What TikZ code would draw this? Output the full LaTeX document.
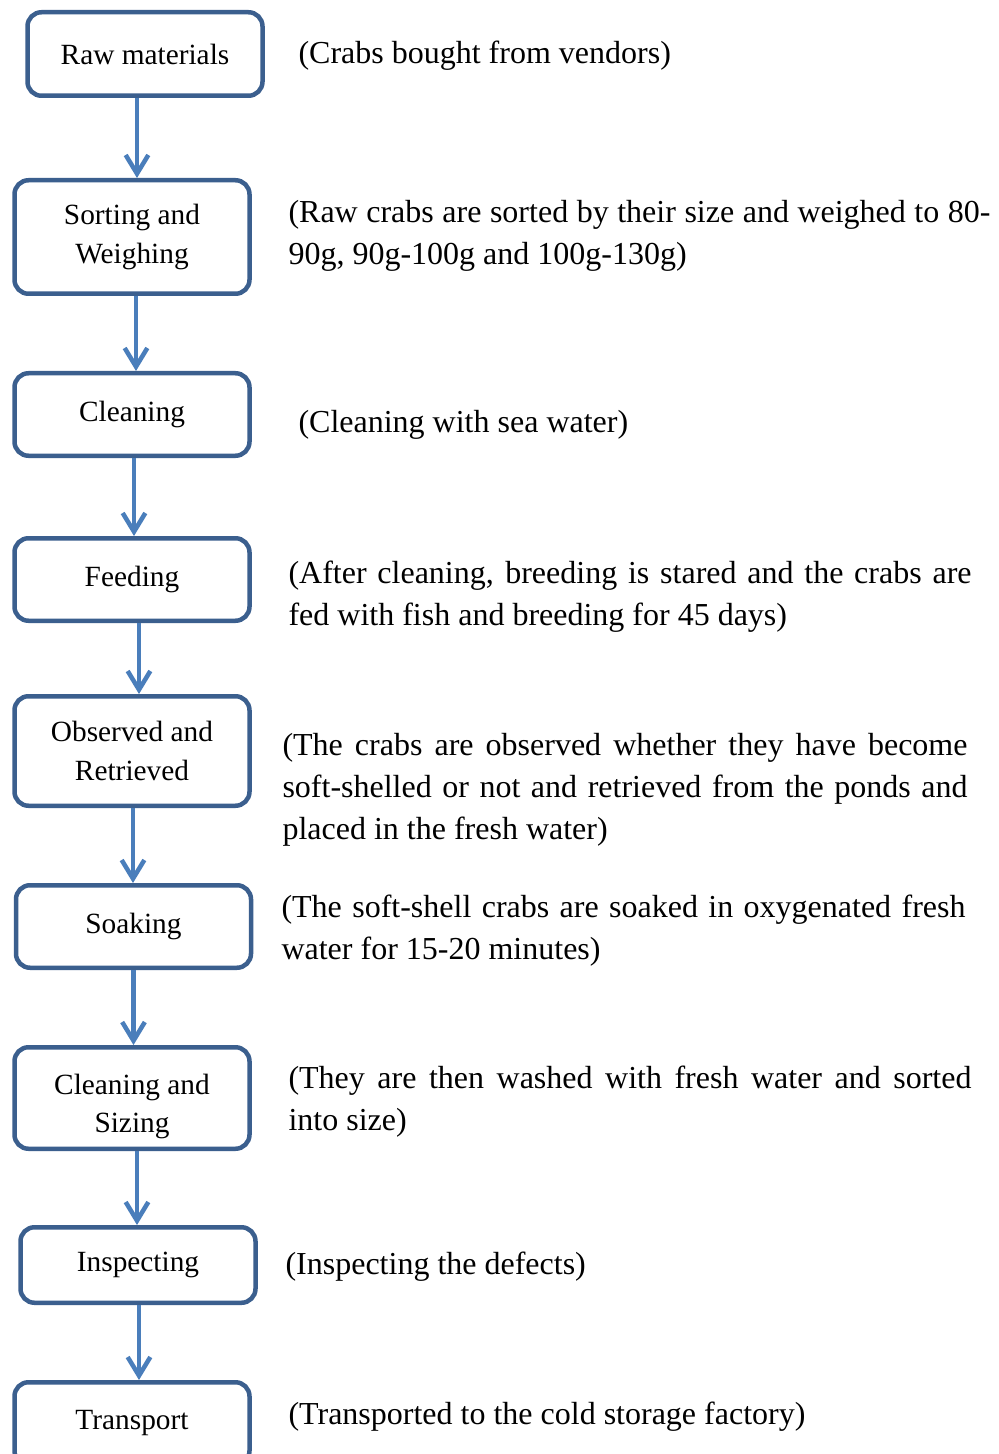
\documentclass[tikz,border=0pt]{standalone}
\usepackage{fontspec}
\setmainfont{Liberation Serif}
\usetikzlibrary{arrows.meta}
\newlength\pxu
\setlength\pxu{0.375pt}
\definecolor{boxblue}{HTML}{3B5F8E}
\definecolor{arrowblue}{HTML}{4A7EBB}
\tikzset{
  stepbox/.style={draw=boxblue, line width=4.5\pxu, rounded corners=14\pxu, inner sep=0pt,
    minimum width=235\pxu, align=center, font=\fontsize{11}{14.6}\selectfont},
  note/.style={anchor=base west, inner sep=0pt, font=\fontsize{12}{15.75}\selectfont},
  flow/.style={draw=arrowblue, line width=4.5\pxu, -{Straight Barb[length=7pt,width=8.5pt]}}
}
\begin{document}
\begin{tikzpicture}[x=\pxu, y=-\pxu]
      \fill[white] (0,0) rectangle (998,1454);
      \path[use as bounding box, clip] (0,0) rectangle (998,1454);
      % process steps
      \node[stepbox, minimum height=83.5\pxu] (sid1) at (145,54) {Raw materials};
      \node[stepbox, minimum height=113.5\pxu] (sid2) at (132,237) {Sorting and\\Weighing};
      \node[stepbox, minimum height=82.5\pxu] (sid3) at (132,414.5) {Cleaning};
      \node[stepbox, minimum height=82.5\pxu] (sid4) at (132,579.5) {Feeding};
      \node[stepbox, minimum height=109.5\pxu] (sid5) at (132,751) {Observed and\\Retrieved};
      \node[stepbox, minimum height=82.5\pxu] (sid6) at (133.5,926.5) {Soaking};
      \node[stepbox, minimum height=101.5\pxu] (sid7) at (132,1098) {\rule{0pt}{14pt}Cleaning and\\Sizing};
      \node[stepbox, minimum height=75.5\pxu] (sid8) at (138,1265) {Inspecting};
      \node[stepbox, minimum height=82.5\pxu] (sid9) at (132,1423.5) {Transport};
      \draw[flow] ([xshift=-8\pxu]sid1.south) -- ([xshift=-8\pxu]sid1.south |- sid2.north);
      \draw[flow] ([xshift=4\pxu]sid2.south) -- ([xshift=4\pxu]sid2.south |- sid3.north);
      \draw[flow] ([xshift=2\pxu]sid3.south) -- ([xshift=2\pxu]sid3.south |- sid4.north);
      \draw[flow] ([xshift=7\pxu]sid4.south) -- ([xshift=7\pxu]sid4.south |- sid5.north);
      \draw[flow] ([xshift=1\pxu]sid5.south) -- ([xshift=1\pxu]sid5.south |- sid6.north);
      \draw[flow] (sid6.south) -- (sid6.south |- sid7.north);
      \draw[flow] ([xshift=5\pxu]sid7.south) -- ([xshift=5\pxu]sid7.south |- sid8.north);
      \draw[flow] ([xshift=1\pxu]sid8.south) -- ([xshift=1\pxu]sid8.south |- sid9.north);
      % notes
      \node[note] (nid1) at (298,64) {(Crabs bought from vendors)};
      \node[note, text width=702\pxu, align=justify] (nid2) at (288,223)
        {(Raw crabs are sorted by their size and weighed to 80-\linebreak 90g, 90g-100g and 100g-130g)};
      \node[note] (nid3) at (298,432) {(Cleaning with sea water)};
      \node[note, text width=683\pxu, align=justify] (nid4) at (288,583)
        {(After cleaning, breeding is stared and the crabs are\linebreak fed with fish and breeding for 45 days)};
      \node[note, text width=685\pxu, align=justify] (nid5) at (282,755)
        {(The crabs are observed whether they have become\linebreak soft-shelled or not and retrieved from the ponds and\linebreak placed in the fresh water)};
      \node[note, text width=684\pxu, align=justify] (nid6) at (281,917)
        {(The soft-shell crabs are soaked in oxygenated fresh\linebreak water for 15-20 minutes)};
      \node[note, text width=683\pxu, align=justify] (nid7) at (288,1088)
        {(They are then washed with fresh water and sorted\linebreak into size)};
      \node[note] (nid8) at (285,1274) {(Inspecting the defects)};
      \node[note] (nid9) at (288,1424) {(Transported to the cold storage factory)};
\end{tikzpicture}
\end{document}
